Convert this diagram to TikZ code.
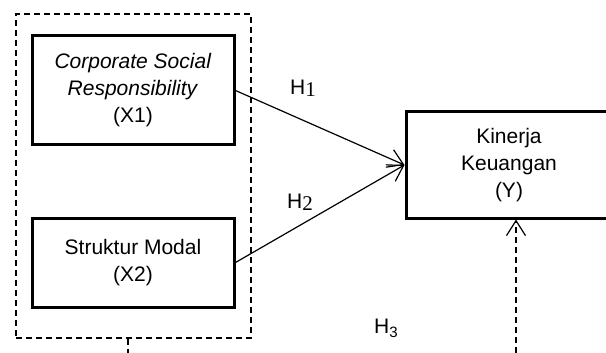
\documentclass[tikz,border=0pt]{standalone}
\usepackage{fontspec}
\setmainfont{Liberation Sans}
\newfontfamily\hserif{Liberation Serif}
\usetikzlibrary{arrows.meta}

\begin{document}
\begin{tikzpicture}[x=1pt,y=-1pt,
  font=\fontsize{21}{27}\selectfont,
  var/.style={draw, line width=3pt, align=center, inner sep=0pt},
  hyp/.style={line width=1.2pt, -{Straight Barb[length=15pt,width=19pt,line width=1.2pt]}},
  grp/.style={draw, dashed, line width=1.2pt, dash pattern=on 6pt off 4pt, inner sep=0pt}]
  \useasboundingbox (0,0) rectangle (606,353);
  \node (grp) [grp, minimum width=235, minimum height=324] at (133.5,176) {};
  \node (x1) [var, minimum width=202, minimum height=109] at (133,90.5)
    {\textit{Corporate Social}\\ \textit{Responsibility}\\ (X1)};
  \node (x2) [var, minimum width=202, minimum height=89] at (133,262.5)
    {Struktur Modal\\ (X2)};
  \node (y) [var, minimum width=206, minimum height=106] at (509,165)
    {Kinerja\\ Keuangan\\ (Y)};
  \coordinate (s) at (128,353);
  \coordinate (t) at (516,353);
  \path[hyp]
  (x1.east) edge (y.west)
  (x2.east) edge (y.west)
  ;
  \draw[grp] (grp.south -| s) -- (s);
  \draw[hyp, dash pattern=on 6pt off 4pt] (t) -- (y.south -| t);
  \node (h1) at (303,88) {H\raisebox{-2pt}{\hserif 1}};
  \node (h2) at (300,202) {H\raisebox{-2pt}{\hserif 2}};
  \node (h3) at (386,328) {H\raisebox{-4pt}{\fontsize{15}{15}\selectfont 3}};
\end{tikzpicture}
\end{document}
